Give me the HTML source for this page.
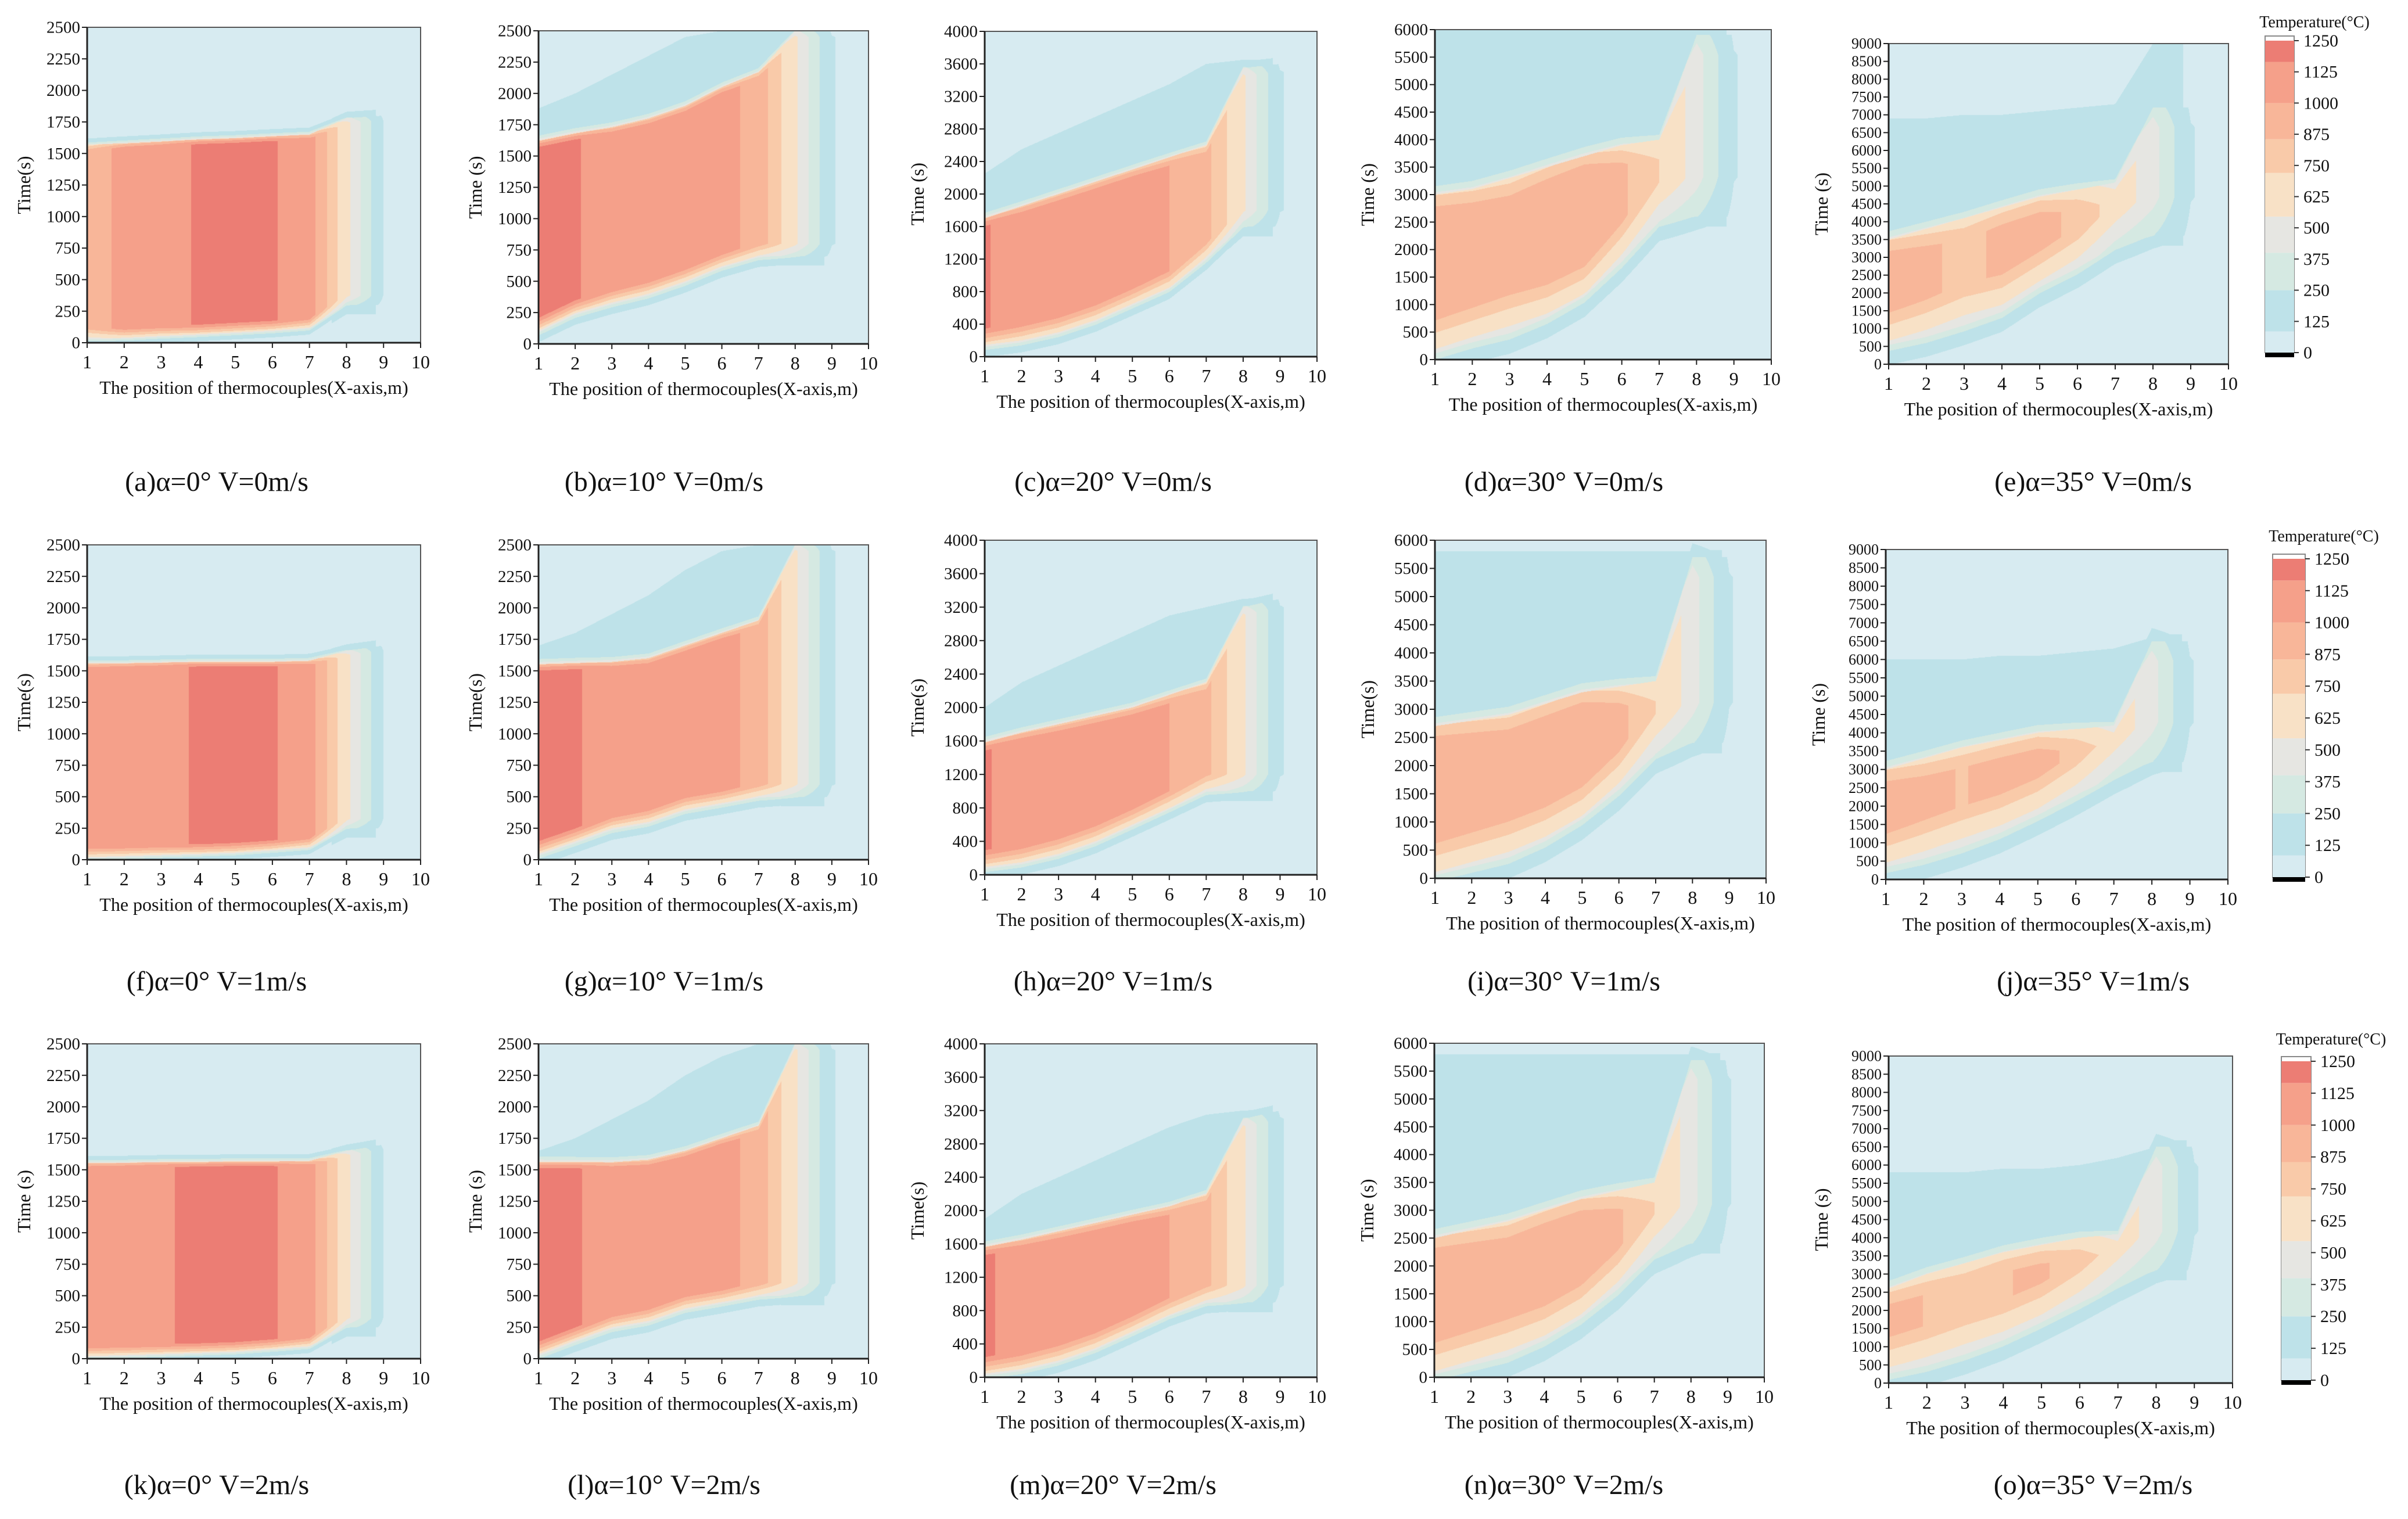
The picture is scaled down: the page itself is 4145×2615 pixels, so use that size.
<!DOCTYPE html>
<html><head><meta charset="utf-8">
<style>
html,body{margin:0;padding:0;background:#fff;}
body{width:4145px;height:2615px;position:relative;overflow:hidden;font-family:"Liberation Serif",serif;}
canvas{position:absolute;}
svg{position:absolute;left:0;top:0;}
</style></head>
<body>
<div id="maps"></div>
<svg id="ov" width="4145" height="2615"></svg>
<script>
// ---- data: per-panel arrays at x = 1..10 m ----
const xPositions = [1,2,3,4,5,6,7,8,9,10];
const tStartA=[30,40,55,70,85,100,120,300,300,300];
const tEndA=[1570,1580,1595,1610,1620,1635,1650,1780,1800,1800];
const peakA=[850,1080,1100,1180,1180,1180,1080,600,80,40];
const hazeA=[0,0,0,0,0,0,0,0,0,0];
const tStartB=[110,250,330,400,500,620,700,700,700,700];
const tEndB=[1620,1680,1730,1800,1900,2050,2170,2500,2500,2500];
const peakB=[1180,1180,1080,1060,1050,1050,950,580,90,40];
const hazeB=[1880,2000,2150,2300,2450,2500,2500,2500,2500,0];
const tStartC=[150,200,300,450,650,850,1200,1600,1600,1600];
const tEndC=[1700,1850,2000,2150,2300,2450,2600,3550,3600,3600];
const peakC=[1180,1080,1060,1050,1050,1000,900,580,90,40];
const hazeC=[2250,2550,2750,2950,3150,3350,3600,3650,3650,0];
const tStartD=[150,350,500,800,1200,1800,2500,2600,2600,2600];
const tEndD=[3000,3100,3300,3500,3700,3900,4000,5900,5900,5900];
const peakD=[950,930,880,950,1000,880,720,470,90,40];
const hazeD=[6000,6000,6000,6000,6000,6000,6000,6000,5900,0];
const tStartE=[600,800,1100,1500,2200,2700,3300,3600,3600,3600];
const tEndE=[3500,3800,4100,4400,4700,4900,5100,7200,7200,7200];
const peakE=[950,880,820,880,900,820,650,460,90,40];
const hazeE=[6900,6900,7000,7000,7100,7200,7300,9000,7000,0];
const tStartF=[20,30,40,50,60,80,100,250,250,250];
const tEndF=[1560,1560,1565,1570,1570,1570,1580,1660,1700,1700];
const peakF=[1050,1100,1120,1180,1180,1180,1080,600,80,40];
const hazeF=[0,0,0,0,0,0,0,0,0,0];
const tStartG=[50,150,250,300,400,450,500,500,500,500];
const tEndG=[1550,1560,1570,1600,1700,1800,1900,2500,2500,2500];
const peakG=[1180,1180,1100,1060,1050,1050,950,580,90,40];
const hazeG=[1700,1800,1950,2100,2300,2450,2500,2500,2500,0];
const tStartH=[100,150,250,400,600,800,1000,1000,1000,1000];
const tEndH=[1580,1700,1800,1900,2000,2150,2300,3200,3300,3300];
const peakH=[1180,1100,1060,1050,1050,1000,900,580,90,40];
const hazeH=[2000,2300,2500,2700,2900,3100,3200,3300,3300,0];
const tStartI=[100,250,400,700,1100,1600,2200,2400,2400,2400];
const tEndI=[2700,2800,2900,3100,3300,3400,3500,5700,5700,5700];
const peakI=[980,950,920,950,980,900,720,470,90,40];
const hazeI=[5800,5800,5800,5800,5800,5800,5800,5800,5700,0];
const tStartJ=[400,600,900,1300,1800,2300,2800,3200,3200,3200];
const tEndJ=[3000,3300,3600,3800,4000,4100,4200,6500,6500,6500];
const peakJ=[950,880,850,880,900,820,650,460,90,40];
const hazeJ=[6000,6000,6000,6100,6100,6200,6300,6600,6300,0];
const tStartK=[20,30,40,50,60,80,100,250,250,250];
const tEndK=[1555,1555,1560,1560,1565,1565,1570,1650,1700,1700];
const peakK=[1080,1120,1150,1190,1190,1180,1080,600,80,40];
const hazeK=[0,0,0,0,0,0,0,0,0,0];
const tStartL=[40,150,250,300,400,450,500,500,500,500];
const tEndL=[1560,1560,1560,1580,1650,1750,1850,2500,2500,2500];
const peakL=[1190,1180,1100,1060,1050,1050,950,580,90,40];
const hazeL=[1650,1750,1900,2050,2250,2400,2500,2500,2500,0];
const tStartM=[50,100,200,350,550,750,900,900,900,900];
const tEndM=[1560,1650,1750,1850,1950,2050,2200,3100,3200,3200];
const peakM=[1190,1100,1060,1050,1050,1000,900,580,90,40];
const hazeM=[1900,2200,2400,2600,2800,3000,3150,3200,3200,0];
const tStartN=[100,250,400,700,1100,1600,2200,2400,2400,2400];
const tEndN=[2500,2650,2800,3000,3200,3350,3500,5700,5700,5700];
const peakN=[980,940,900,940,960,880,720,470,90,40];
const hazeN=[5800,5800,5800,5800,5800,5800,5800,5800,5700,0];
const tStartO=[300,500,800,1200,1700,2200,2700,3100,3100,3100];
const tEndO=[2600,3000,3300,3600,3800,4000,4100,6500,6500,6500];
const peakO=[900,850,820,850,870,800,650,460,90,40];
const hazeO=[5800,5800,5800,5900,5900,6000,6200,6500,6000,0];
const legendTicks=[0,125,250,375,500,625,750,875,1000,1125,1250];
const levelBounds=[85,250,400,545,720,855,1000,1165];
const levelColors=['#d7ebf1','#bee2e9','#d5e9e2','#e6e6e2','#f8e1c6','#f9caa9','#f8b699','#f5a08a','#ec7d74'];

const panels=[
 {id:'a',box:[150,47,724,590],ymax:2500,ystep:250,yl:'Time(s)',cap:'(a)α=0° V=0m/s',ts:tStartA,te:tEndA,pk:peakA,hz:hazeA,ramp:0.03,halo:0.012},
 {id:'b',box:[927,53,1495,592],ymax:2500,ystep:250,yl:'Time (s)',cap:'(b)α=10° V=0m/s',ts:tStartB,te:tEndB,pk:peakB,hz:hazeB,ramp:0.04,halo:0.02},
 {id:'c',box:[1695,54,2267,614],ymax:4000,ystep:400,yl:'Time (s)',cap:'(c)α=20° V=0m/s',ts:tStartC,te:tEndC,pk:peakC,hz:hazeC,ramp:0.05,halo:0.02},
 {id:'d',box:[2470,51,3049,619],ymax:6000,ystep:500,yl:'Time (s)',cap:'(d)α=30° V=0m/s',ts:tStartD,te:tEndD,pk:peakD,hz:hazeD,ramp:0.12,halo:0.04},
 {id:'e',box:[3251,75,3836,627],ymax:9000,ystep:500,yl:'Time (s)',cap:'(e)α=35° V=0m/s',ts:tStartE,te:tEndE,pk:peakE,hz:hazeE,ramp:0.12,halo:0.04},
 {id:'f',box:[150,938,724,1480],ymax:2500,ystep:250,yl:'Time(s)',cap:'(f)α=0° V=1m/s',ts:tStartF,te:tEndF,pk:peakF,hz:hazeF,ramp:0.03,halo:0.012},
 {id:'g',box:[927,938,1495,1480],ymax:2500,ystep:250,yl:'Time(s)',cap:'(g)α=10° V=1m/s',ts:tStartG,te:tEndG,pk:peakG,hz:hazeG,ramp:0.04,halo:0.02},
 {id:'h',box:[1695,930,2267,1506],ymax:4000,ystep:400,yl:'Time(s)',cap:'(h)α=20° V=1m/s',ts:tStartH,te:tEndH,pk:peakH,hz:hazeH,ramp:0.05,halo:0.02},
 {id:'i',box:[2470,930,3040,1512],ymax:6000,ystep:500,yl:'Time(s)',cap:'(i)α=30° V=1m/s',ts:tStartI,te:tEndI,pk:peakI,hz:hazeI,ramp:0.12,halo:0.04},
 {id:'j',box:[3246,946,3835,1514],ymax:9000,ystep:500,yl:'Time (s)',cap:'(j)α=35° V=1m/s',ts:tStartJ,te:tEndJ,pk:peakJ,hz:hazeJ,ramp:0.12,halo:0.04},
 {id:'k',box:[150,1797,724,2339],ymax:2500,ystep:250,yl:'Time (s)',cap:'(k)α=0° V=2m/s',ts:tStartK,te:tEndK,pk:peakK,hz:hazeK,ramp:0.03,halo:0.012},
 {id:'l',box:[927,1797,1495,2339],ymax:2500,ystep:250,yl:'Time (s)',cap:'(l)α=10° V=2m/s',ts:tStartL,te:tEndL,pk:peakL,hz:hazeL,ramp:0.04,halo:0.02},
 {id:'m',box:[1695,1797,2267,2371],ymax:4000,ystep:400,yl:'Time(s)',cap:'(m)α=20° V=2m/s',ts:tStartM,te:tEndM,pk:peakM,hz:hazeM,ramp:0.05,halo:0.02},
 {id:'n',box:[2469,1796,3037,2371],ymax:6000,ystep:500,yl:'Time (s)',cap:'(n)α=30° V=2m/s',ts:tStartN,te:tEndN,pk:peakN,hz:hazeN,ramp:0.12,halo:0.04},
 {id:'o',box:[3251,1818,3843,2381],ymax:9000,ystep:500,yl:'Time (s)',cap:'(o)α=35° V=2m/s',ts:tStartO,te:tEndO,pk:peakO,hz:hazeO,ramp:0.12,halo:0.04}
];
const captionY=[829,1689,2556];
const colorbars=[{x:3899,w:50,y0:70,y1:607,ty:37},{x:3912,w:56,y0:962,y1:1510,ty:922},{x:3927,w:51,y0:1827,y1:2376,ty:1788}];
const HAZE_EDGE=8.8;

function interp(arr,x){let i=Math.floor(x-1);if(i<0)i=0;if(i>8)i=8;const f=x-1-i;return arr[i]*(1-f)+arr[i+1]*f;}
function hexRgb(h){return [parseInt(h.slice(1,3),16),parseInt(h.slice(3,5),16),parseInt(h.slice(5,7),16)];}
const levelRgb=levelColors.map(hexRgb);
function levelOf(T){let k=0;while(k<levelBounds.length&&T>=levelBounds[k])k++;return k;}
function field(p,x,t){
 const ts=interp(p.ts,x),te=interp(p.te,x),pk=interp(p.pk,x);
 const hz=x<HAZE_EDGE?p.hz[Math.min(9,Math.round(x-1))]*0+interp(p.hz,Math.min(x,8)):0;
 const r=p.ramp*p.ymax,h=p.halo*p.ymax;let T;
 if(t>=ts&&t<=te){const f=Math.min(1,0.55+0.45*(t-ts)/r,0.75+0.25*(te-t)/(r*0.5));T=pk*f;}
 else{const d=t<ts?ts-t:t-te;T=pk*0.5*Math.exp(-d/h);}
 if(t>te&&t<hz)T=Math.max(T,190);
 if(x<HAZE_EDGE&&x>7.6&&t>ts-0.03*p.ymax&&t<te+0.02*p.ymax)T=Math.max(T,190);
 return Math.max(T,40);
}
const NS='http://www.w3.org/2000/svg';
const ov=document.getElementById('ov');
function sv(tag,attrs,parent){const e=document.createElementNS(NS,tag);for(const k in attrs)e.setAttribute(k,attrs[k]);(parent||ov).appendChild(e);return e;}
const maps=document.getElementById('maps');
panels.forEach((p,pi)=>{
 const [L,T0,R,B]=p.box,w=R-L,h=B-T0;
 const cv=document.createElement('canvas');cv.width=w;cv.height=h;cv.style.left=L+'px';cv.style.top=T0+'px';
 
 
 maps.appendChild(cv);
 const ctx=cv.getContext('2d');const img=ctx.createImageData(w,h);
 for(let py=0;py<h;py++){const t=p.ymax*(1-(py+0.5)/h);
  for(let px=0;px<w;px++){const x=1+9*(px+0.5)/w;const c=levelRgb[levelOf(field(p,x,t))];const o=(py*w+px)*4;img.data[o]=c[0];img.data[o+1]=c[1];img.data[o+2]=c[2];img.data[o+3]=255;}}
 ctx.putImageData(img,0,0);
 const g=sv('g',{});
 
 
 const fr=sv('rect',{x:L,y:T0,width:w,height:h,fill:'none',stroke:'#555','stroke-width':2},g);
 
 
 sv('line',{x1:L,y1:T0,x2:L,y2:B,stroke:'#222','stroke-width':3},g);
 sv('line',{x1:L,y1:B,x2:R,y2:B,stroke:'#222','stroke-width':3},g);
 const ny=Math.round(p.ymax/p.ystep);const fs=p.ymax===9000?26:29;
 for(let k=0;k<=ny;k++){const v=k*p.ystep;const y=B-h*v/p.ymax;
  sv('line',{x1:L-9,y1:y,x2:L,y2:y,stroke:'#222','stroke-width':2},g);
  const tx=sv('text',{x:L-12,y:y+fs*0.33,'text-anchor':'end','font-size':fs,fill:'#111'},g);tx.textContent=v;
  
  }
 xPositions.forEach(v=>{const x=L+w*(v-1)/9;
  sv('line',{x1:x,y1:B,x2:x,y2:B+9,stroke:'#222','stroke-width':2},g);
  const tx=sv('text',{x:x,y:B+44,'text-anchor':'middle','font-size':32,fill:'#111'},g);tx.textContent=v;
  
  });
 const xl=sv('text',{x:(L+R)/2,y:B+88,'text-anchor':'middle','font-size':32,fill:'#111'},g);xl.textContent='The position of thermocouples(X-axis,m)';
 
 
 const yx=L-(p.ymax>=4000?105:98),yy=(T0+B)/2;
 const yl=sv('text',{x:yx,y:yy,'text-anchor':'middle','font-size':32,fill:'#111',transform:`rotate(-90 ${yx} ${yy})`},g);yl.textContent=p.yl;
 
 
 const cx=[373,1143,1916,2692,3603][pi%5];
 const cp=sv('text',{x:cx,y:captionY[Math.floor(pi/5)]+16,'text-anchor':'middle','font-size':48,fill:'#111'},g);cp.textContent=p.cap;
 
 
});
colorbars.forEach(cb=>{
 const g=sv('g',{});
 
 
 const span=cb.y1-cb.y0;const yv=v=>cb.y1-span*v/1250;
 sv('rect',{x:cb.x,y:cb.y0-8,width:cb.w,height:span+8,fill:'#fff',stroke:'#888','stroke-width':2},g);
 const bounds=[0].concat(levelBounds,[1250]);
 levelColors.forEach((c,i)=>{const r=sv('rect',{x:cb.x,y:yv(bounds[i+1]),width:cb.w,height:yv(bounds[i])-yv(bounds[i+1]),fill:c},g);
  
  });
 sv('rect',{x:cb.x,y:cb.y1,width:cb.w,height:8,fill:'#000'},g);
 legendTicks.forEach(v=>{const y=yv(v);
  sv('line',{x1:cb.x+cb.w,y1:y,x2:cb.x+cb.w+8,y2:y,stroke:'#333','stroke-width':2},g);
  const t=sv('text',{x:cb.x+cb.w+16,y:y+10,'font-size':30,fill:'#111'},g);t.textContent=v;
  
  });
 const tt=sv('text',{x:cb.x+cb.w/2+60,y:cb.ty+10,'text-anchor':'middle','font-size':28,fill:'#111'},g);tt.textContent='Temperature(°C)';
 
 
});
</script>
</body></html>
